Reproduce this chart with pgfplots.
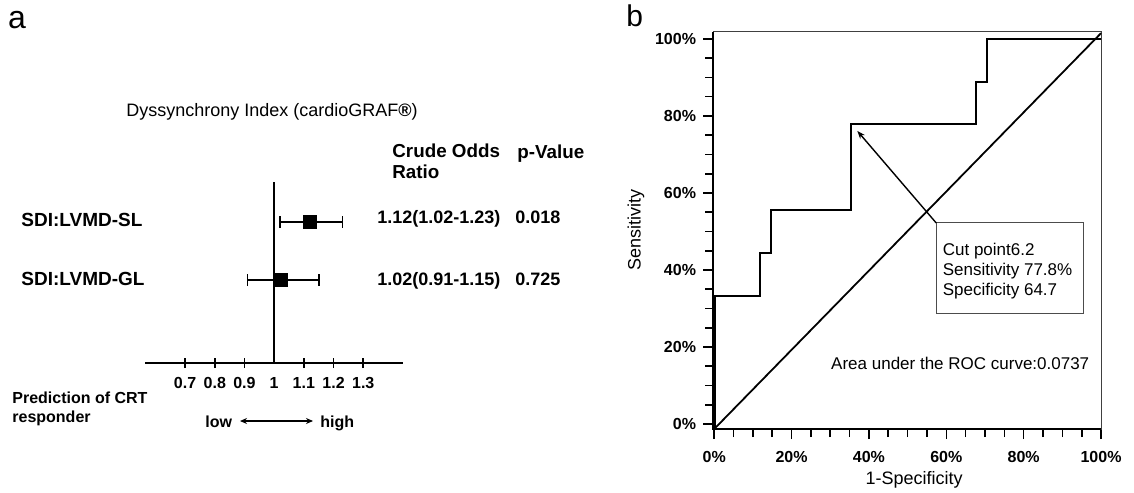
\documentclass[border=0pt]{standalone}
\usepackage{fontspec}
\setmainfont{Liberation Sans}
\usepackage{pgfplots}
\pgfplotsset{compat=1.18}
\usetikzlibrary{arrows.meta}
\newcommand\fs[1]{\fontsize{#1bp}{1.2\dimexpr#1bp\relax}\selectfont}
\begin{document}
\begin{tikzpicture}[x=0.5bp,y=-0.5bp]
\path[use as bounding box] (0,0) rectangle (1134,493);

% ---------------- panel a: forest plot ----------------
\begin{axis}[
  at={(72.5bp,-181.5bp)}, anchor=south west,
  scale only axis, width=129bp, height=90.5bp,
  xmin=0.565, xmax=1.434, ymin=0, ymax=181,
  enlargelimits=false, clip=false,
  axis x line=bottom, axis y line=none,
  axis line style={-, line width=1bp},
  xtick={0.7,0.8,0.9,1.1,1.2,1.3},
  extra x ticks={1},
  extra x tick style={major tick length=0pt, xticklabel style={yshift=-2.5bp}},
  tick align=center, major tick length=5bp,
  tick style={line width=0.9bp, black},
  /pgf/number format/assume math mode=true,
  xticklabel style={font=\bfseries\fs{8}, yshift=-1bp},
]
\addplot[black, line width=0.8bp] coordinates {(1,0) (1,181)};
\addplot[black, only marks, mark=square*, mark size=3.4bp,
  error bars/.cd, x dir=both, x explicit, error mark=|,
  error mark options={mark size=3bp, line width=0.9bp},
  error bar style={line width=1bp}]
  coordinates {
  (1.12,141) += (0.11,0) -= (0.10,0)
  (1.02,83) += (0.13,0) -= (0.11,0)
  };
\end{axis}

\begin{scope}[every node/.style={inner sep=0pt}]
\node[font=\fs{16}] at (17,20) {a};
\node[font=\fs{9}] at (272,112) {Dyssynchrony Index (cardioGRAF{\bfseries\textregistered})};
\node[font=\bfseries\fs{9.4}, anchor=mid west] at (392,152) {Crude Odds};
\node[font=\bfseries\fs{9.4}, anchor=mid west] at (392,173) {Ratio};
\node[font=\bfseries\fs{9.4}, anchor=mid west] at (517,153) {p-Value};
\node[font=\bfseries\fs{9.5}, anchor=mid west] at (21,221) {SDI:LVMD-SL};
\node[font=\bfseries\fs{9.5}, anchor=mid west] at (21,280) {SDI:LVMD-GL};
\node[font=\bfseries\fs{9}, anchor=mid west] at (377,218) {1.12(1.02-1.23)};
\node[font=\bfseries\fs{9}, anchor=mid west] at (377,280) {1.02(0.91-1.15)};
\node[font=\bfseries\fs{9}, anchor=mid west] at (515,218) {0.018};
\node[font=\bfseries\fs{9}, anchor=mid west] at (515,280) {0.725};
\node[font=\bfseries\fs{8}, anchor=mid west] at (12,398) {Prediction of CRT};
\node[font=\bfseries\fs{8}, anchor=mid west] at (12,417) {responder};
\node[font=\bfseries\fs{8}, anchor=mid west] at (205,422) {low};
\node[font=\bfseries\fs{8}, anchor=mid west] at (320,422) {high};
\draw[{Stealth[length=3.5bp,width=3bp]}-{Stealth[length=3.5bp,width=3bp]}, line width=0.7bp] (240,421) -- (313,421);
\end{scope}

% ---------------- panel b: ROC curve ----------------
\begin{axis}[
  at={(356.5bp,-214.5bp)}, anchor=south west,
  scale only axis, width=194bp, height=198.5bp,
  xmin=-0.3, xmax=100, ymin=-1.3, ymax=101.8,
  enlargelimits=false, clip=false,
  axis line style={line width=0.5bp, black!75},
  xtick={0,20,40,60,80,100}, ytick={0,20,40,60,80,100},
  minor xtick={5,10,...,95}, minor ytick={5,10,...,95},
  xticklabels={0\%,20\%,40\%,60\%,80\%,100\%},
  yticklabels={0\%,20\%,40\%,60\%,80\%,100\%},
  xtick pos=bottom, ytick pos=left, tick align=outside,
  major tick length=5bp, minor tick length=4bp,
  tick style={line width=0.8bp, black},
  ticklabel style={font=\bfseries\fs{8}},
  xticklabel style={yshift=-2.5bp},
]
\draw[line width=1bp] (rel axis cs:0,1) -- (rel axis cs:0,0) -- (rel axis cs:1,0);
\addplot[black, line width=0.9bp] coordinates {(0,-1.3) (100,101.5)};
\addplot[black, line width=1bp] coordinates {
  (0,0) (0,33.3) (11.8,33.3) (11.8,44.4) (14.7,44.4) (14.7,55.6)
  (35.3,55.6) (35.3,77.8) (67.6,77.8) (67.6,88.9) (70.6,88.9)
  (70.6,100) (100,100)};
\addplot[black, line width=1.8bp] coordinates {(0,-1.3) (0,33.3)};
\draw[black!70, line width=0.5bp, fill=white] (axis cs:57.4,28.8) rectangle (axis cs:95.4,52.2);
\draw[-{Stealth[length=4bp,width=3bp]}, line width=0.7bp] (axis cs:57.4,52.2) -- (axis cs:37,76.1);
\node[font=\fs{8.5}, anchor=mid west, inner sep=0pt] at (axis cs:59.0,45.2) {Cut point6.2};
\node[font=\fs{8.5}, anchor=mid west, inner sep=0pt] at (axis cs:59.0,40.0) {Sensitivity 77.8\%};
\node[font=\fs{8.5}, anchor=mid west, inner sep=0pt] at (axis cs:59.0,34.8) {Specificity 64.7};
\node[font=\fs{8.5}, inner sep=0pt] at (axis cs:63.6,15.8) {Area under the ROC curve:0.0737};
\end{axis}

\node[font=\fs{15}, anchor=base west, inner sep=0pt] at (626,27) {b};
\node[font=\fs{9}, inner sep=0pt] at (914,480) {1-Specificity};
\node[font=\fs{9}, rotate=90, inner sep=0pt] at (636,230) {Sensitivity};
\end{tikzpicture}
\end{document}
